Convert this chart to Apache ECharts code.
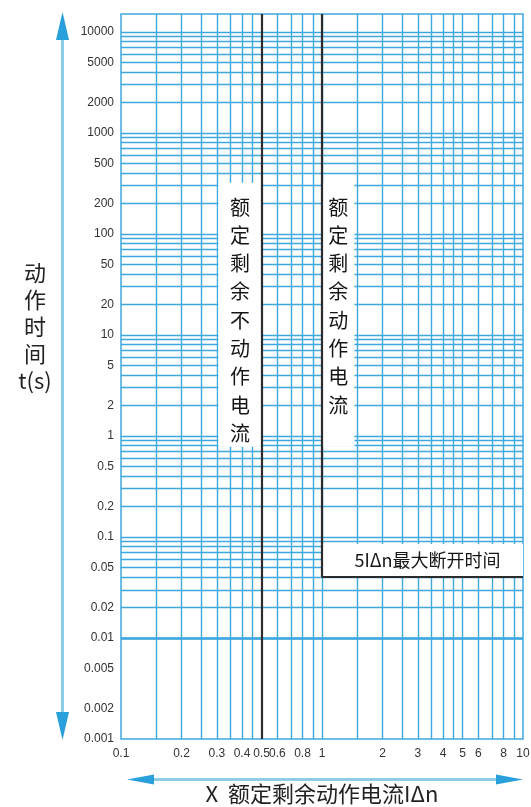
<!DOCTYPE html>
<html><head><meta charset="utf-8">
<script src="https://cdn.jsdelivr.net/npm/echarts@6/dist/echarts.min.js"></script>
<style>html,body{margin:0;padding:0;background:#fff}#c{width:531px;height:807px}</style>
</head><body><div id="c"></div>
<script>
// ---- data ----
const xTickLabels = [0.1, 0.2, 0.3, 0.4, 0.5, 0.6, 0.8, 1, 2, 3, 4, 5, 6, 8, 10];
const yTickLabels = [0.001, 0.002, 0.005, 0.01, 0.02, 0.05, 0.1, 0.2, 0.5, 1, 2, 5, 10, 20, 50, 100, 200, 500, 1000, 2000, 5000, 10000];
const xGridLines = [0.15, 0.2, 0.25, 0.3, 0.35, 0.4, 0.45, 0.6, 0.7, 0.8, 0.9, 1, 1.5, 2, 2.5, 3, 3.5, 4, 4.5, 5, 6, 7, 8, 9];
const yGridDecades = [0.001, 0.01, 0.1, 1, 10, 100, 1000];
const yGridMultipliers = [1, 2, 3, 4, 5, 6, 7, 8, 9];
const yGridTop = [10000];
const nonOperatingCurrent = 0.5;   // x multiple
const operatingCurrent = 1;        // x multiple
const maxBreakTime = 0.04;         // s
const leftBoxText = '额定剩余不动作电流';
const rightBoxText = '额定剩余动作电流';
const breakBoxText = '5IΔn最大断开时间';
const yAxisTitle = ['动', '作', '时', '间', 't(s)'];
const xAxisTitle = 'X  额定剩余动作电流IΔn';

// ---- chart ----
const X_MIN = 0.1, X_MAX = 10, Y_MIN = 0.001, Y_MAX = 15000;
const BLUE = '#3ea8de';
const FONT = '"Liberation Sans","Noto Sans CJK SC",sans-serif';
const CJK = '"Noto Sans CJK SC","Liberation Sans",sans-serif';

const yGridLines = [];
yGridDecades.forEach(d => yGridMultipliers.forEach(m => yGridLines.push(+(d * m).toPrecision(6))));
yGridTop.forEach(v => yGridLines.push(v));

const fmt = v => String(+(+v).toPrecision(6));
const vert = s => s.split('').join('\n');

const chart = echarts.init(document.getElementById('c'), null, {renderer: 'canvas'});
chart.setOption({
  animation: false,
  backgroundColor: '#fff',
  grid: {left: 121, right: 8, top: 14, bottom: 68, containLabel: false, outerBoundsMode: 'none',
         show: true, borderColor: BLUE, borderWidth: 1.5, backgroundColor: '#fff'},
  xAxis: {
    type: 'log', logBase: 10, min: X_MIN, max: X_MAX,
    axisLine: {show: false}, axisTick: {show: false}, splitLine: {show: false},
    axisLabel: {customValues: xTickLabels, formatter: fmt, color: '#333', fontSize: 12, fontFamily: FONT, margin: 9},
    name: xAxisTitle, nameLocation: 'middle', nameGap: 44,
    nameTextStyle: {fontSize: 22, color: '#222', fontFamily: CJK}
  },
  yAxis: {
    type: 'log', logBase: 10, min: Y_MIN, max: Y_MAX,
    axisLine: {show: false}, axisTick: {show: false}, splitLine: {show: false},
    axisLabel: {customValues: yTickLabels, formatter: fmt, color: '#333', fontSize: 12, fontFamily: FONT, margin: 7}
  },
  graphic: [
    {type: 'rect', shape: {x: 61, y: 36, width: 3, height: 680}, style: {fill: '#8ecde9'}},
    {type: 'polygon', shape: {points: [[62.5, 12], [56, 40], [69, 40]]}, style: {fill: '#29a0dc'}},
    {type: 'polygon', shape: {points: [[62.5, 740], [56, 712], [69, 712]]}, style: {fill: '#29a0dc'}},
    {type: 'rect', shape: {x: 150, y: 778, width: 350, height: 3}, style: {fill: '#8ecde9'}},
    {type: 'polygon', shape: {points: [[127, 779.5], [154, 774.5], [154, 784.5]]}, style: {fill: '#29a0dc'}},
    {type: 'polygon', shape: {points: [[523, 779.5], [496, 774.5], [496, 784.5]]}, style: {fill: '#29a0dc'}},
    {type: 'text', x: 35, y: 259, style: {text: yAxisTitle.join('\n'), textAlign: 'center', textVerticalAlign: 'top', font: '22px ' + CJK, lineHeight: 27, fill: '#222'}}
  ],
  series: [
    {
      type: 'line', data: [], z: 2,
      markLine: {
        silent: true, symbol: ['none', 'none'], label: {show: false}, z: 2,
        lineStyle: {color: BLUE, width: 1.4, type: 'solid'},
        emphasis: {disabled: true},
        data: [
          ...xGridLines.map(v => ({xAxis: v})),
          ...yGridLines.map(v => ({yAxis: v}))
        ]
      }
    },
    {
      type: 'line', data: [], z: 3,
      markArea: {
        silent: true, z: 3,
        itemStyle: {color: '#fff'},
        data: [
          [{name: vert(leftBoxText), coord: [0.305, 320],
            label: {position: 'insideTop', distance: 10, lineHeight: 28.3, fontSize: 20, color: '#151515', fontFamily: CJK, align: 'center'}},
           {coord: [nonOperatingCurrent, 0.78]}],
          [{name: vert(rightBoxText), coord: [operatingCurrent, 320],
            label: {position: 'insideTop', distance: 10, lineHeight: 28.3, fontSize: 20, color: '#151515', fontFamily: CJK, align: 'center'}},
           {coord: [1.45, 0.78]}],
          [{name: breakBoxText, coord: [operatingCurrent, 0.085],
            label: {position: 'inside', fontSize: 18, color: '#151515', fontFamily: CJK, offset: [5, 0]}},
           {coord: [X_MAX, maxBreakTime]}]
        ]
      }
    },
    {
      type: 'line', data: [], z: 4,
      markLine: {
        silent: true, symbol: ['none', 'none'], label: {show: false}, z: 6,
        lineStyle: {color: '#2b2b2b', width: 2.2, type: 'solid'},
        data: [
          {xAxis: nonOperatingCurrent},
          [{coord: [operatingCurrent, maxBreakTime]}, {coord: [operatingCurrent, Y_MAX]}],
          [{coord: [operatingCurrent, maxBreakTime]}, {coord: [X_MAX, maxBreakTime]}]
        ]
      }
    }
  ]
});
</script></body></html>
